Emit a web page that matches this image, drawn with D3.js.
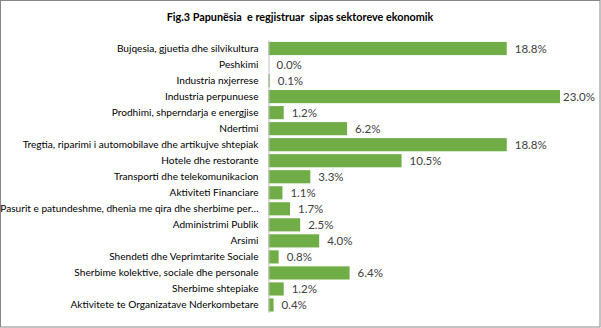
<!DOCTYPE html>
<html><head><meta charset="utf-8">
<script src="https://cdn.jsdelivr.net/npm/d3@7"></script>
<style>body{margin:0;background:#fff}svg{display:block}</style>
</head><body>
<svg id="c" width="601" height="328"></svg>
<script>
const title = "Fig.3 Papunësia  e regjistruar  sipas sektoreve ekonomik";
const categories = [
  "Bujqesia, gjuetia dhe silvikultura",
  "Peshkimi",
  "Industria nxjerrese",
  "Industria perpunuese",
  "Prodhimi, shperndarja e energjise",
  "Ndertimi",
  "Tregtia, riparimi i automobilave dhe artikujve shtepiak",
  "Hotele dhe restorante",
  "Transporti dhe telekomunikacion",
  "Aktiviteti Financiare",
  "Pasurit e patundeshme, dhenia me qira dhe sherbime per…",
  "Administrimi Publik",
  "Arsimi",
  "Shendeti dhe Veprimtarite Sociale",
  "Sherbime kolektive, sociale dhe personale",
  "Sherbime shtepiake",
  "Aktivitete te Organizatave Nderkombetare"
];
const values = [18.8, 0.0, 0.1, 23.0, 1.2, 6.2, 18.8, 10.5, 3.3, 1.1, 1.7, 2.5, 4.0, 0.8, 6.4, 1.2, 0.4];

const svg = d3.select("#c");
const font = "Lato, 'Open Sans', sans-serif";
svg.append("rect").attr("x",0.5).attr("y",0.5).attr("width",599.5).attr("height",326.5)
  .attr("fill","#fff").attr("stroke","#868686").attr("stroke-width",1);

svg.append("text").attr("x",300).attr("y",20.5).attr("text-anchor","middle")
  .attr("font-family",font).attr("font-weight","bold").attr("font-size",10.8)
  .attr("fill","#000").attr("xml:space","preserve").text(title);

const x = d3.scaleLinear().domain([0, 23]).range([268.5, 560]);
const y = d3.scaleBand().domain(categories).range([40.5, 313]).paddingInner(0.18).paddingOuter(0.09);

svg.append("g").selectAll("rect").data(values).join("rect")
  .attr("x", x(0)).attr("y", (d,i)=>y(categories[i]))
  .attr("width", d=>x(d)-x(0)).attr("height", y.bandwidth())
  .attr("fill","#70ad47");

const yAxis = d3.axisLeft(y).tickSize(0).tickPadding(10);
const ga = svg.append("g").attr("transform",`translate(${x(0)},0)`).call(yAxis);
ga.select(".domain").attr("stroke","#bfbfbf").attr("d","M0.5,40.5V313");
ga.selectAll("text").attr("font-family",font).attr("font-size",10.1).attr("fill","#000");

const fmt = d3.format(".1f");
svg.append("g").selectAll("text").data(values).join("text")
  .attr("x", d=>Math.min(x(d)+8, 563))
  .attr("y", (d,i)=>y(categories[i])+y.bandwidth()/2)
  .attr("dy","0.35em")
  .attr("font-family",font).attr("font-size",11.5).attr("fill","#404040")
  .text(d=>fmt(d)+"%");
</script>
</body></html>
